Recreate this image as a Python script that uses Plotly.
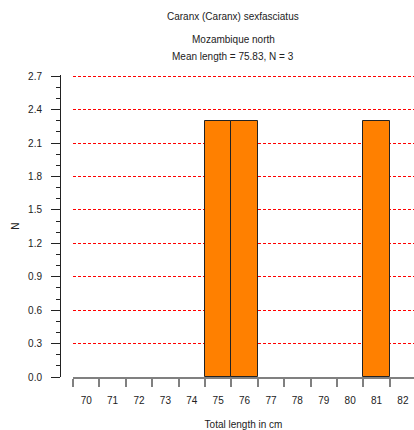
import plotly.graph_objects as go

# Data
length_classes = [str(v) for v in range(70, 83)]
bar_lengths = ["75", "76", "81"]
bar_counts = [2.3, 2.3, 2.3]
y_ticks = [0.0, 0.3, 0.6, 0.9, 1.2, 1.5, 1.8, 2.1, 2.4, 2.7]
title_main = "Caranx (Caranx) sexfasciatus"
title_sub1 = "Mozambique north"
title_sub2 = "Mean length = 75.83, N = 3"

W, H = 414, 430
ML, MR, MT, MB = 60, 0, 75, 53
plot_w = W - ML - MR
plot_h = H - MT - MB
x_start = 13 / plot_w
y_top = plot_h / (300.7 / 2.7)

font = "Liberation Sans, Arial, sans-serif"
FS = 10

fig = go.Figure()
fig.add_trace(go.Bar(
    x=bar_lengths, y=bar_counts, width=1,
    marker=dict(color="#FF8000", line=dict(color="#222222", width=1)),
))

fig.update_layout(
    width=W, height=H,
    margin=dict(l=ML, r=MR, t=MT, b=MB, pad=0),
    paper_bgcolor="white", plot_bgcolor="white",
    showlegend=False, bargap=0,
    font=dict(family=font, size=FS, color="#222222"),
    xaxis=dict(
        type="category", categoryorder="array", categoryarray=length_classes,
        tickvals=length_classes, ticktext=length_classes,
        range=[-0.5, 12.42], domain=[x_start, 1],
        tickson="boundaries", ticks="outside", ticklen=8, tickwidth=2,
        tickcolor="#808080", showline=True, linecolor="#808080", linewidth=2,
        showgrid=False, zeroline=False, ticklabelstandoff=13,
        tickfont=dict(size=FS, color="#222222"),
        title=dict(text="Total length in cm", font=dict(size=FS), standoff=17),
    ),
    yaxis=dict(
        range=[0, y_top], anchor="free", position=0,
        tickvals=y_ticks, ticktext=[f"{v:.1f}" for v in y_ticks],
        ticks="outside", ticklen=9, tickwidth=1, tickcolor="#222222",
        minor=dict(dtick=0.1, tick0=0, ticks="outside", ticklen=4,
                   tickcolor="#222222", showgrid=False),
        showline=True, linecolor="#222222", linewidth=1,
        showgrid=True, gridcolor="#FF0000", griddash="3px,2px", gridwidth=1,
        zeroline=False, ticklabelstandoff=7,
        tickfont=dict(size=FS, color="#222222"),
        title=dict(text="N", font=dict(size=FS), standoff=5),
    ),
)

cx = (233 - ML) / plot_w
def ypix(py):
    return (H - MB - py) / plot_h

for txt, py in [(title_main, 17), (title_sub1, 40), (title_sub2, 56)]:
    fig.add_annotation(text=txt, xref="paper", yref="paper", x=cx, y=ypix(py),
                       xanchor="center", yanchor="middle", showarrow=False,
                       font=dict(size=FS, color="#222222"))

fig.write_html("out.html", config={"displayModeBar": False},
               post_script="document.body.style.margin='0';")
